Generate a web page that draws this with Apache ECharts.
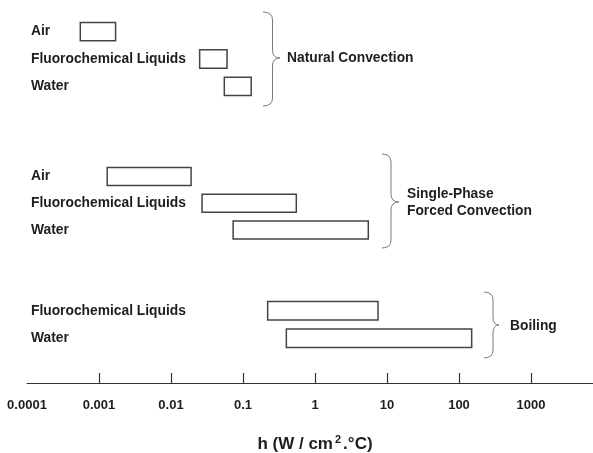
<!DOCTYPE html>
<html>
<head>
<meta charset="utf-8">
<title>h ranges</title>
<script src="https://cdn.jsdelivr.net/npm/echarts@6/dist/echarts.min.js"></script>
<style>
    html, body { margin: 0; padding: 0; background: #fff; }
    #hChart { width: 593px; height: 453px; }
</style>
</head>
<body>
<div id="hChart"></div>
<script>
// 数据
var natCategories = ['Air', 'Fluorochemical Liquids', 'Water'];
var natLow = [0.00055, 0.025, 0.055];
var natHigh = [0.0017, 0.06, 0.13];

var forcedCategories = ['Air', 'Fluorochemical Liquids', 'Water'];
var forcedLow = [0.0013, 0.027, 0.073];
var forcedHigh = [0.019, 0.55, 5.5];

var boilCategories = ['Fluorochemical Liquids', 'Water'];
var boilLow = [0.22, 0.4];
var boilHigh = [7.5, 150];

var tickLabels = ['0.0001', '0.001', '0.01', '0.1', '1', '10', '100', '1000'];
var axisMin = 0.0001;
var axisMax = 10000;

var fontFamily = "'Liberation Sans', Arial, Helvetica, sans-serif";
var textColor = '#1e1e1e';

// [类别序号, 下限, 上限]
function rangeData(low, high){
    var arr = [];
    for (var i = 0; i < low.length; i++) {
        arr.push([i, low[i], high[i]]);
    }
    return arr;
}

// 画空心矩形
function renderRange(params, api){
    var cat = api.value(0);
    var p0 = api.coord([api.value(1), cat]);
    var p1 = api.coord([api.value(2), cat]);
    var h = api.size([0, 1])[1] * 0.67;
    return {
        type: 'rect',
        shape: { x: p0[0], y: p0[1] - h / 2, width: p1[0] - p0[0], height: h },
        style: { fill: '#fff', stroke: '#444', lineWidth: 1.5 }
    };
}

function hiddenX(idx){
    return {
        type: 'log', logBase: 10, gridIndex: idx,
        min: axisMin, max: axisMax, splitNumber: 8,
        show: false
    };
}

function catY(idx, cats){
    return {
        type: 'category', gridIndex: idx, data: cats, inverse: true,
        axisLine: { show: false },
        axisTick: { show: false },
        splitLine: { show: false },
        axisLabel: {
            inside: true, margin: 4,
            color: textColor, fontFamily: fontFamily,
            fontSize: 13.8, fontWeight: 'bold'
        }
    };
}

// 大括号（曲线+直线拼起来）
function braceItem(xe, xl, xt, y0, ym, y1){
    var r = 8;
    var st = { stroke: '#7a7a7a', lineWidth: 1, fill: null };
    return {
        type: 'group',
        children: [
            { type: 'bezierCurve', shape: { x1: xe, y1: y0, cpx1: xl, cpy1: y0, x2: xl, y2: y0 + r }, style: st },
            { type: 'line', shape: { x1: xl, y1: y0 + r, x2: xl, y2: ym - r }, style: st },
            { type: 'bezierCurve', shape: { x1: xl, y1: ym - r, cpx1: xl, cpy1: ym, x2: xt, y2: ym }, style: st },
            { type: 'bezierCurve', shape: { x1: xt, y1: ym, cpx1: xl, cpy1: ym, x2: xl, y2: ym + r }, style: st },
            { type: 'line', shape: { x1: xl, y1: ym + r, x2: xl, y2: y1 - r }, style: st },
            { type: 'bezierCurve', shape: { x1: xl, y1: y1 - r, cpx1: xl, cpy1: y1, x2: xe, y2: y1 }, style: st }
        ]
    };
}

function groupText(x, y, txt){
    return {
        type: 'text', x: x, y: y,
        style: {
            text: txt, fill: textColor, font: 'bold 13.8px ' + fontFamily,
            verticalAlign: 'middle', lineHeight: 17
        }
    };
}

var gridBase = { left: 27, right: -10, outerBoundsMode: 'none', containLabel: false };

var option = {
    animation: false,
    backgroundColor: '#fff',
    grid: [
        Object.assign({ top: 18, height: 82 }, gridBase),
        Object.assign({ top: 163, height: 80.5 }, gridBase),
        Object.assign({ top: 297, height: 55 }, gridBase),
        Object.assign({ top: 373, height: 10 }, gridBase)
    ],
    xAxis: [
        hiddenX(0),
        hiddenX(1),
        hiddenX(2),
        {
            type: 'log', logBase: 10, gridIndex: 3,
            min: axisMin, max: axisMax, splitNumber: 8,
            position: 'bottom',
            axisLine: { show: true, lineStyle: { color: '#333', width: 1.2 } },
            axisTick: { show: false },
            // 用splitLine做朝上的刻度
            splitLine: {
                show: true, showMinLine: false, showMaxLine: false,
                lineStyle: { color: '#333', width: 1.2 }
            },
            axisLabel: {
                margin: 16, showMaxLabel: false,
                color: textColor, fontFamily: fontFamily,
                fontSize: 13, fontWeight: 'bold',
                formatter: function(v){
                    var i = Math.round(Math.log(v) / Math.LN10) + 4;
                    return tickLabels[i] || '';
                }
            },
            name: 'h (W / cm{sup|2}.°C)',
            nameLocation: 'middle',
            nameGap: 51,
            nameTextStyle: {
                color: textColor, fontFamily: fontFamily,
                fontSize: 17, fontWeight: 'bold',
                rich: {
                    sup: { fontSize: 11, fontWeight: 'bold', fontFamily: fontFamily, color: textColor, padding: [0, 2, 9, 2] }
                }
            }
        }
    ],
    yAxis: [
        catY(0, natCategories),
        catY(1, forcedCategories),
        catY(2, boilCategories),
        { type: 'value', gridIndex: 3, show: false }
    ],
    series: [
        {
            name: 'Natural Convection', type: 'custom', xAxisIndex: 0, yAxisIndex: 0,
            renderItem: renderRange, encode: { x: [1, 2], y: 0 },
            data: rangeData(natLow, natHigh)
        },
        {
            name: 'Single-Phase Forced Convection', type: 'custom', xAxisIndex: 1, yAxisIndex: 1,
            renderItem: renderRange, encode: { x: [1, 2], y: 0 },
            data: rangeData(forcedLow, forcedHigh)
        },
        {
            name: 'Boiling', type: 'custom', xAxisIndex: 2, yAxisIndex: 2,
            renderItem: renderRange, encode: { x: [1, 2], y: 0 },
            data: rangeData(boilLow, boilHigh)
        }
    ],
    graphic: [
        braceItem(263, 272.5, 280, 12, 58, 106),
        groupText(287, 58, 'Natural Convection'),
        braceItem(382, 391, 399, 154, 202, 248),
        groupText(407, 202.5, 'Single-Phase\nForced Convection'),
        braceItem(484, 493, 499, 292, 325, 358),
        groupText(510, 326, 'Boiling')
    ]
};

var myChart = echarts.init(document.getElementById('hChart'));
myChart.setOption(option, true);
</script>
</body>
</html>
